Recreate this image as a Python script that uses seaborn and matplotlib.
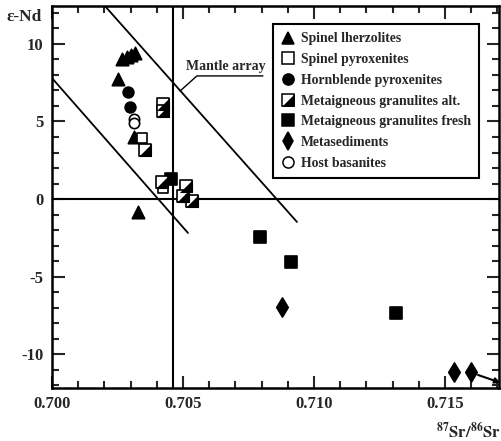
import matplotlib
matplotlib.use("Agg")
import matplotlib.pyplot as plt
import seaborn as sns
import pandas as pd
from matplotlib.lines import Line2D
from matplotlib.legend_handler import HandlerTuple
from matplotlib.ticker import MultipleLocator, FormatStrFormatter

# ---- data (87Sr/86Sr, epsilon-Nd) ----
lherz_sr = [0.70267, 0.70286, 0.70302, 0.70317, 0.70252, 0.70313, 0.70328]
lherz_nd = [9.03, 9.16, 9.29, 9.42, 7.74, 4.00, -0.84]

sp_pyx_sr = [0.70344, 0.70424]
sp_pyx_nd = [3.94, 0.71]

hbl_pyx_sr = [0.70290, 0.70298]
hbl_pyx_nd = [6.90, 5.94]

gran_alt_sr = [0.70355, 0.70424, 0.70424, 0.70420, 0.70511, 0.70500, 0.70534]
gran_alt_nd = [3.16, 6.13, 5.68, 1.10, 0.84, 0.19, -0.13]

gran_fresh_sr = [0.70454, 0.70794, 0.70912, 0.71313]
gran_fresh_nd = [1.29, -2.45, -4.06, -7.35]

metased_sr = [0.70878, 0.71534, 0.71599]
metased_nd = [-6.97, -11.16, -11.16]

basanite_sr = [0.70313, 0.70313]
basanite_nd = [5.16, 4.90]

# mantle array bounding lines
mantle_hi_sr = [0.70202, 0.70935]
mantle_hi_nd = [12.45, -1.48]
mantle_lo_sr = [0.70000, 0.70519]
mantle_lo_nd = [7.80, -2.19]

bulk_earth_sr = 0.7046
chur_nd = 0.0

sns.set_style("ticks")
plt.rcParams['font.family'] = ['Liberation Serif', 'DejaVu Serif']
plt.rcParams['font.weight'] = 'bold'
plt.rcParams['axes.unicode_minus'] = False
plt.rcParams['mathtext.fontset'] = 'stix'

fig = plt.figure(figsize=(5.02, 4.41), dpi=100)
ax = fig.add_axes([52 / 502, 53 / 441, 447 / 502, 382 / 441])

groups = [
    ("Spinel lherzolites", lherz_sr, lherz_nd),
    ("Spinel pyroxenites", sp_pyx_sr, sp_pyx_nd),
    ("Hornblende pyroxenites", hbl_pyx_sr, hbl_pyx_nd),
    ("Metaigneous granulites alt.", gran_alt_sr, gran_alt_nd),
    ("Metaigneous granulites fresh", gran_fresh_sr, gran_fresh_nd),
    ("Metasediments", metased_sr, metased_nd),
    ("Host basanites", basanite_sr, basanite_nd),
]
df = pd.concat([pd.DataFrame({"sr": s, "nd": n, "group": g}) for g, s, n in groups],
               ignore_index=True)

# reference lines
ax.axvline(bulk_earth_sr, color='black', lw=1.5, zorder=1)
ax.axhline(chur_nd, color='black', lw=1.5, zorder=1)
ax.plot(mantle_hi_sr, mantle_hi_nd, color='black', lw=1.3, zorder=1)
ax.plot(mantle_lo_sr, mantle_lo_nd, color='black', lw=1.3, zorder=1)

# leader to "Mantle array" label
ax.plot([0.70805, 0.70553, 0.70489], [7.94, 7.94, 6.97], color='black', lw=1.0)
ax.text(0.70664, 8.55, "Mantle array", ha='center', va='center',
        fontsize=10, fontweight='bold')

half_tri = [(-1, -1), (1, -1), (1, 1)]
style = {
    "Spinel lherzolites": dict(marker='^', s=80, color='black', edgecolor='black'),
    "Spinel pyroxenites": dict(marker='s', s=60, color='white', edgecolor='black'),
    "Hornblende pyroxenites": dict(marker='o', s=60, color='black', edgecolor='black'),
    "Metaigneous granulites fresh": dict(marker='s', s=64, color='black', edgecolor='black'),
    "Metasediments": dict(marker='d', s=95, color='black', edgecolor='black'),
    "Host basanites": dict(marker='o', s=55, color='white', edgecolor='black'),
}

for name, kw in style.items():
    sub = df[df.group == name]
    sns.scatterplot(data=sub, x="sr", y="nd", ax=ax, linewidth=1.2, zorder=3,
                    legend=False, **kw)

# half-filled squares: white square with lower-right triangle black
sub = df[df.group == "Metaigneous granulites alt."]
sns.scatterplot(data=sub, x="sr", y="nd", ax=ax, marker='s', s=64, color='white',
                edgecolor='black', linewidth=1.2, zorder=3, legend=False)
sns.scatterplot(data=sub, x="sr", y="nd", ax=ax, marker=half_tri, s=64, color='black',
                edgecolor='black', linewidth=0.8, zorder=4, legend=False)

# arrow towards off-scale sample
ax.annotate("", xy=(0.71712, -11.85), xytext=(0.71626, -11.35),
            arrowprops=dict(arrowstyle='-|>', color='black', lw=1.5,
                            mutation_scale=8, shrinkA=0, shrinkB=0),
            annotation_clip=False)

ax.set_xlim(0.700, 0.71706)
ax.set_ylim(-12.19, 12.45)
ax.xaxis.set_major_locator(MultipleLocator(0.005))
ax.xaxis.set_minor_locator(MultipleLocator(0.001))
ax.yaxis.set_major_locator(MultipleLocator(5))
ax.yaxis.set_minor_locator(MultipleLocator(1))
ax.xaxis.set_major_formatter(FormatStrFormatter('%.3f'))
ax.yaxis.set_major_formatter(FormatStrFormatter('%d'))
ax.tick_params(which='both', direction='in', top=True, right=True, width=1.5)
ax.tick_params(which='major', length=9, labelsize=12, pad=6)
ax.tick_params(which='minor', length=5)
for lab in ax.get_xticklabels() + ax.get_yticklabels():
    lab.set_fontweight('bold')
for sp in ax.spines.values():
    sp.set_linewidth(1.8)
    sp.set_color('black')
ax.set_xlabel("")
ax.set_ylabel("")

# legend
def mk(marker, fc, ms=8):
    return Line2D([], [], ls='', marker=marker, markersize=ms, markerfacecolor=fc,
                  markeredgecolor='black', markeredgewidth=1.1)

handles = [
    mk('^', 'black', 9),
    mk('s', 'white'),
    mk('o', 'black'),
    (mk('s', 'white'), Line2D([], [], ls='', marker=half_tri, markersize=8,
                              markerfacecolor='black', markeredgecolor='black',
                              markeredgewidth=0.6)),
    mk('s', 'black'),
    mk('d', 'black', 9),
    mk('o', 'white'),
]
labels = [g[0] for g in groups]
leg = ax.legend(handles, labels, loc='upper left', bbox_to_anchor=(0.494, 0.953),
                borderaxespad=0, frameon=True, fancybox=False, edgecolor='black',
                framealpha=1, handlelength=0.9, handletextpad=0.5,
                labelspacing=0.56, borderpad=0.62,
                handler_map={tuple: HandlerTuple(ndivide=1, pad=0)},
                prop={'weight': 'bold', 'size': 9.9})
leg.get_frame().set_linewidth(1.5)

fig.text(7 / 502, 1 - 17 / 441, "ε-Nd", fontsize=12.5, fontweight='bold',
         ha='left', va='center')
fig.text(436 / 502, 1 - 432 / 441, r"$\mathbf{^{87}Sr/^{86}Sr}$", fontsize=12,
         ha='left', va='center')

fig.savefig("out.png", dpi=100)
